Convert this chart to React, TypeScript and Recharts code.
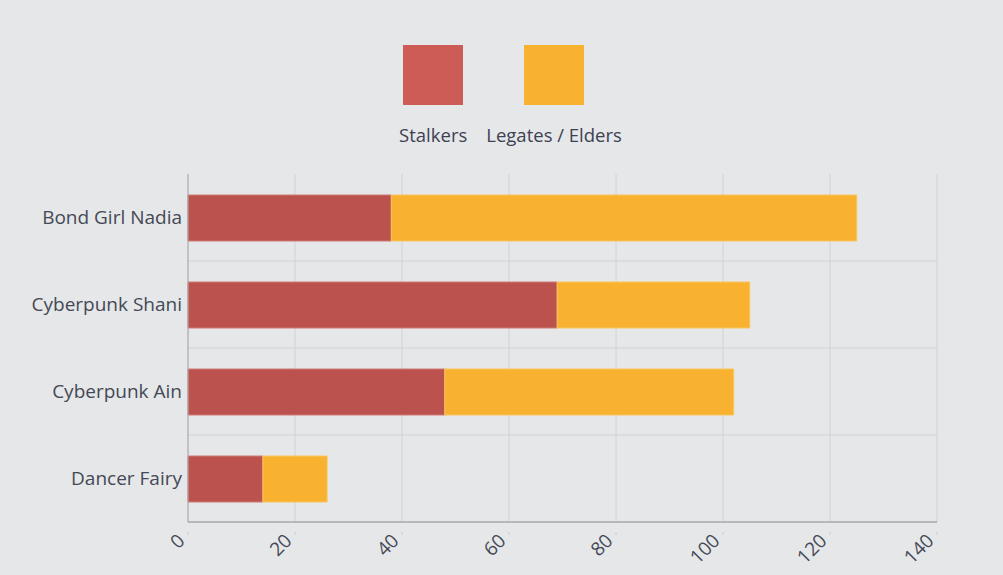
import React from 'react';
import { BarChart, Bar, XAxis, YAxis, CartesianGrid } from 'recharts';

// values
const characters = ['Bond Girl Nadia', 'Cyberpunk Shani', 'Cyberpunk Ain', 'Dancer Fairy'];
const stalkers = [38, 69, 48, 14];
const legates = [87, 36, 54, 12];
const xTicks = [0, 20, 40, 60, 80, 100, 120, 140];

const seriesNames = ['Stalkers', 'Legates / Elders'];
const barColors = ['#bc524e', '#f8b230'];
const legendColors = ['#cc5c55', '#f8b230'];

const data = characters.map((name, i) => ({
  name,
  stalkers: stalkers[i],
  legates: legates[i],
}));

const FONT = '"Open Sans", "Noto Sans", sans-serif';
const TEXT = '#444955';

const XTick = ({ x, y, payload }: any) => (
  <g>
    <line x1={x} x2={x} y1={y + 2} y2={y + 5} stroke="#c9cacd" />
    <text
      x={x - 2}
      y={y + 12}
      transform={`rotate(-45, ${x - 2}, ${y + 12})`}
      textAnchor="end"
      fontSize={19}
      fontFamily={FONT}
      fill={TEXT}
    >
      {payload.value}
    </text>
  </g>
);

export default function App() {
  return (
    <div style={{ position: 'fixed', left: 0, top: 0, width: 1003, height: 575, background: '#e6e7e9', fontFamily: FONT }}>
      {/* legend: swatch above label */}
      <div style={{ position: 'absolute', top: 45, left: 9, width: 1003, display: 'flex', justifyContent: 'center', gap: 19 }}>
        {seriesNames.map((s, i) => (
          <div key={s} style={{ display: 'flex', flexDirection: 'column', alignItems: 'center' }}>
            <div style={{ width: 60, height: 60, background: legendColors[i] }} />
            <div style={{ marginTop: 17, fontSize: 18.5, color: '#3d4152' }}>{s}</div>
          </div>
        ))}
      </div>
      <BarChart
        width={1003}
        height={575}
        data={data}
        layout="vertical"
        margin={{ top: 174, right: 66, bottom: 0, left: 0 }}
        barSize={46}
      >
        <CartesianGrid
          stroke="#d1d2d5"
          horizontalCoordinatesGenerator={({ offset }: any) =>
            [1, 2, 3].map((k) => offset.top + (offset.height * k) / characters.length)
          }
        />
        <XAxis
          type="number"
          domain={[0, 140]}
          ticks={xTicks}
          height={53}
          axisLine={{ stroke: '#a6a7aa', strokeWidth: 1.5 }}
          tickLine={false}
          tick={<XTick />}
          interval={0}
        />
        <YAxis
          type="category"
          dataKey="name"
          width={188}
          axisLine={{ stroke: '#a6a7aa' }}
          tickLine={false}
          tickMargin={0}
          tick={{ fill: TEXT, fontSize: 19, fontFamily: FONT }}
        />
        <Bar dataKey="stalkers" stackId="a" fill={barColors[0]} stroke="#cf7a74" strokeWidth={1} isAnimationActive={false} />
        <Bar dataKey="legates" stackId="a" fill={barColors[1]} stroke="#f9c55f" strokeWidth={1} isAnimationActive={false} />
      </BarChart>
    </div>
  );
}
